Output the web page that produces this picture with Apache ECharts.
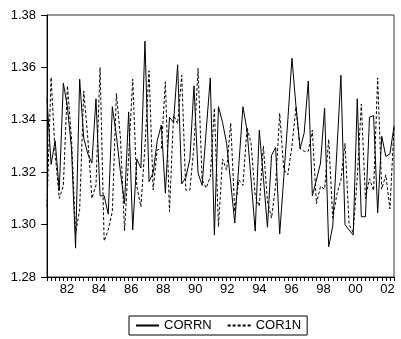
<!DOCTYPE html>
<html><head><meta charset="utf-8">
<script src="https://cdn.jsdelivr.net/npm/echarts@6/dist/echarts.min.js"></script>
<style>html,body{margin:0;padding:0;background:#fff}#c{width:401px;height:339px}</style>
</head><body><div id="c"></div>
<script>
// quarterly observations 1981Q1 .. 2002Q2
const quarters = [];
for (let y = 1981; y <= 2002; y++) for (let q = 1; q <= 4; q++) { if (y === 2002 && q > 2) break; quarters.push(y + 'Q' + q); }

const corrn = [
  1.348, 1.323, 1.332, 1.313, 1.354, 1.345, 1.329, 1.291, 1.3555, 1.333,
  1.327, 1.3235, 1.348, 1.311, 1.311, 1.304, 1.345, 1.334, 1.320, 1.308,
  1.343, 1.298, 1.325, 1.3216, 1.370, 1.3164, 1.3197, 1.332, 1.338, 1.312,
  1.341, 1.339, 1.361, 1.3155, 1.318, 1.325, 1.353, 1.3197, 1.315, 1.336,
  1.356, 1.296, 1.345, 1.339, 1.331, 1.316, 1.3006, 1.323, 1.345, 1.336,
  1.317, 1.2975, 1.336, 1.318, 1.299, 1.3264, 1.3295, 1.2964, 1.318, 1.340,
  1.3635, 1.345, 1.329, 1.335, 1.3548, 1.311, 1.317, 1.3235, 1.3445, 1.2915,
  1.2995, 1.328, 1.357, 1.300, 1.298, 1.296, 1.348, 1.303, 1.303, 1.341,
  1.3416, 1.3045, 1.3337, 1.326, 1.327, 1.3375
];
const cor1n = [
  1.3068, 1.3562, 1.327, 1.310, 1.3147, 1.353, 1.333, 1.2965, 1.3057, 1.351,
  1.333, 1.310, 1.315, 1.360, 1.2937, 1.298, 1.305, 1.350, 1.333, 1.2976,
  1.326, 1.3555, 1.3145, 1.3068, 1.330, 1.3587, 1.3132, 1.3285, 1.329, 1.3545,
  1.305, 1.3418, 1.3385, 1.357, 1.3132, 1.3132, 1.330, 1.3597, 1.317, 1.314,
  1.3183, 1.3445, 1.2992, 1.325, 1.3208, 1.3388, 1.305, 1.317, 1.315, 1.337,
  1.331, 1.311, 1.307, 1.330, 1.309, 1.3025, 1.315, 1.3425, 1.321, 1.319,
  1.330, 1.345, 1.329, 1.328, 1.328, 1.336, 1.308, 1.3146, 1.3135, 1.3325,
  1.3025, 1.3115, 1.317, 1.331, 1.300, 1.297, 1.318, 1.346, 1.310, 1.3175,
  1.313, 1.356, 1.3135, 1.319, 1.306, 1.337
];
const yearTickValues = [1982, 1984, 1986, 1988, 1990, 1992, 1994, 1996, 1998, 2000, 2002];
const yearTickLabels = ['82', '84', '86', '88', '90', '92', '94', '96', '98', '00', '02'];
const yMin = 1.28, yMax = 1.38, yStep = 0.02;

const FONT = 'Arial, "Liberation Sans", sans-serif';
const chart = echarts.init(document.getElementById('c'), null, { renderer: 'canvas' });
chart.setOption({
  animation: false,
  backgroundColor: '#fff',
  grid: { left: 47, top: 15, right: 7, bottom: 62, show: true, borderColor: '#333', borderWidth: 1, backgroundColor: 'transparent' },
  xAxis: [
    {
      type: 'category', data: quarters, boundaryGap: false, position: 'bottom',
      axisLine: { show: true, lineStyle: { color: '#000', width: 1 } },
      axisTick: { show: true, interval: 0, length: 4, inside: false, lineStyle: { color: '#000', width: 1 } },
      axisLabel: { show: false },
      splitLine: { show: false }
    },
    {
      type: 'value', min: 1980.75, max: 2002.4, position: 'bottom',
      axisLine: { show: false }, axisTick: { show: false }, splitLine: { show: false },
      axisLabel: {
        show: true, customValues: yearTickValues, margin: 6,
        fontFamily: FONT, fontSize: 13, color: '#000',
        formatter: v => yearTickLabels[yearTickValues.indexOf(Math.round(v))] || ''
      }
    }
  ],
  yAxis: {
    type: 'value', min: yMin, max: yMax, interval: yStep,
    axisLine: { show: true, lineStyle: { color: '#000', width: 1 } },
    axisTick: { show: true, length: 6, lineStyle: { color: '#000', width: 1 } },
    axisLabel: { margin: 11, fontFamily: FONT, fontSize: 13, color: '#000', formatter: v => v.toFixed(2) },
    splitLine: { show: false }
  },
  legend: {
    left: 129, top: 316, orient: 'horizontal',
    borderColor: '#000', borderWidth: 1, padding: [3, 6, 3, 6],
    itemWidth: 23, itemHeight: 14, itemGap: 15,
    itemStyle: { color: 'transparent', borderWidth: 0, opacity: 0 },
    textStyle: { fontFamily: FONT, fontSize: 13, color: '#000' },
    data: ['CORRN', 'COR1N']
  },
  series: [
    { name: 'CORRN', type: 'line', data: corrn, symbol: 'none', xAxisIndex: 0,
      lineStyle: { color: '#000', width: 1, type: 'solid' }, itemStyle: { color: '#000' } },
    { name: 'COR1N', type: 'line', data: cor1n, symbol: 'none', xAxisIndex: 0,
      lineStyle: { color: '#000', width: 1, type: [3, 2] }, itemStyle: { color: '#000' } }
  ]
});
</script>
</body></html>
